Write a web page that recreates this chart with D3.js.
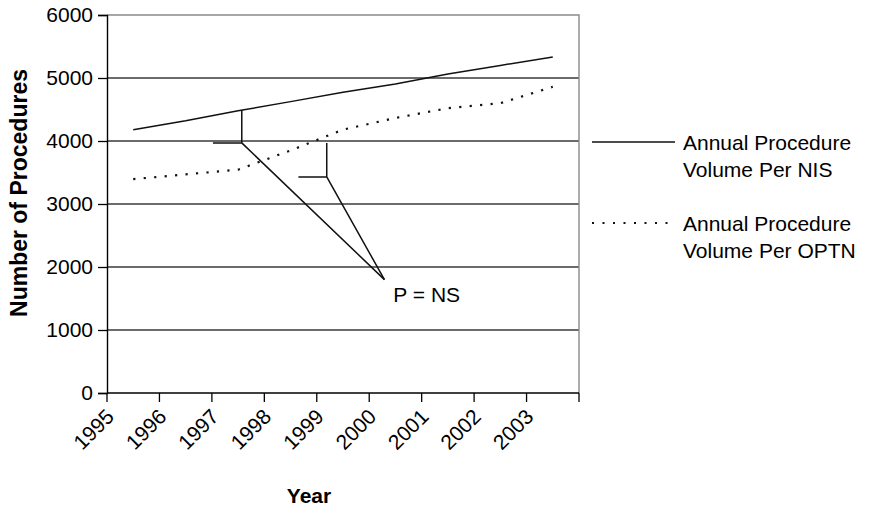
<!DOCTYPE html>
<html>
<head>
<meta charset="utf-8">
<script src="https://cdn.jsdelivr.net/npm/d3@7"></script>
<style>
  html, body { margin: 0; padding: 0; background: #fff; }
  svg { display: block; }
  text { font-family: "Liberation Sans", Arial, sans-serif; fill: #000; }
</style>
</head>
<body>
<svg id="chart" width="871" height="509"></svg>
<script>
// ---- data ----
const years = ["1995", "1996", "1997", "1998", "1999", "2000", "2001", "2002", "2003"];
const nisValues = [4180, 4320, 4480, 4625, 4775, 4905, 5065, 5200, 5335];
const optnValues = [3395, 3470, 3545, 3850, 4180, 4365, 4520, 4600, 4860];
const yTicks = [0, 1000, 2000, 3000, 4000, 5000, 6000];
const seriesNames = [["Annual Procedure", "Volume Per NIS"], ["Annual Procedure", "Volume Per OPTN"]];
const yTitle = "Number of Procedures";
const xTitle = "Year";
const noteText = "P = NS";
// annotation brackets (x in category index units, y in procedure units)
const brackets = [
  { x: 2.07, xLeft: 1.52, yTop: 4492, yBottom: 3970 },
  { x: 3.69, xLeft: 3.15, yTop: 3970, yBottom: 3430 }
];
const notePoint = { x: 4.79, y: 1800 };
const noteLabel = { x: 4.96, y: 1450 };

// ---- layout ----
const svg = d3.select("#chart");
const pLeft = 107, pRight = 579, pTop = 15, pBottom = 393;

const x = d3.scaleBand().domain(years).range([pLeft, pRight]).padding(0);
const y = d3.scaleLinear().domain([0, 6000]).range([pBottom, pTop]);
const xi = d3.scaleLinear().domain([0, years.length - 1])
  .range([x(years[0]) + x.bandwidth() / 2, x(years[years.length - 1]) + x.bandwidth() / 2]);

// gridlines
svg.append("g")
  .selectAll("line")
  .data(yTicks.filter(t => t > 0 && t < 6000))
  .join("line")
  .attr("x1", pLeft).attr("x2", pRight)
  .attr("y1", d => y(d)).attr("y2", d => y(d))
  .attr("stroke", "#3a3a3a").attr("stroke-width", 1.4);

// plot border top/right
svg.append("path")
  .attr("d", `M${pLeft},${y(6000)}H${pRight}V${pBottom}`)
  .attr("fill", "none").attr("stroke", "#8a8a8a").attr("stroke-width", 1.4);

// y axis
const yAxis = d3.axisLeft(y).tickValues(yTicks).tickSize(9).tickPadding(5).tickFormat(d3.format("d"));
const gy = svg.append("g").attr("transform", `translate(${pLeft},0)`).call(yAxis);
gy.select(".domain").attr("stroke", "#000").attr("stroke-width", 1.4);
gy.selectAll(".tick line").attr("stroke", "#000").attr("stroke-width", 1.3);
gy.selectAll(".tick text").attr("font-size", 21).attr("font-family", "Liberation Sans, Arial, sans-serif").attr("fill", "#000");

// x axis: ticks at category boundaries
const boundaries = years.map(d => x(d)).concat([pRight]);
const gx = svg.append("g");
gx.append("line").attr("x1", pLeft).attr("x2", pRight).attr("y1", pBottom).attr("y2", pBottom)
  .attr("stroke", "#000").attr("stroke-width", 1.4);
gx.selectAll("line.tk").data(boundaries).join("line").attr("class", "tk")
  .attr("x1", d => d).attr("x2", d => d).attr("y1", pBottom).attr("y2", pBottom + 9)
  .attr("stroke", "#000").attr("stroke-width", 1.3);
gx.selectAll("text").data(years).join("text")
  .attr("transform", d => `translate(${x(d) + x.bandwidth() / 2 - 18},${pBottom + 25}) rotate(-45)`)
  .attr("text-anchor", "end")
  .attr("font-size", 21)
  .text(d => d);

// series lines
const line = d3.line().x((d, i) => x(years[i]) + x.bandwidth() / 2).y(d => y(d));
svg.append("path").datum(nisValues).attr("d", line)
  .attr("fill", "none").attr("stroke", "#111").attr("stroke-width", 1.5);
svg.append("path").datum(optnValues).attr("d", line)
  .attr("fill", "none").attr("stroke", "#111").attr("stroke-width", 2.2)
  .attr("stroke-dasharray", "2.2,8.3");

// annotation brackets
const ann = svg.append("g").attr("fill", "none").attr("stroke", "#111").attr("stroke-width", 1.5);
brackets.forEach(b => {
  ann.append("path").attr("d",
    `M${xi(b.x)},${y(b.yTop)}V${y(b.yBottom)}H${xi(b.xLeft)}` +
    `M${xi(b.x)},${y(b.yBottom)}L${xi(notePoint.x)},${y(notePoint.y)}`);
});
svg.append("text").attr("x", xi(noteLabel.x)).attr("y", y(noteLabel.y))
  .attr("font-size", 21).text(noteText);

// axis titles
svg.append("text")
  .attr("transform", `translate(27,193) rotate(-90)`)
  .attr("text-anchor", "middle").attr("font-size", 23).attr("font-weight", "bold")
  .text(yTitle);
svg.append("text").attr("x", 309).attr("y", 503)
  .attr("text-anchor", "middle").attr("font-size", 21).attr("font-weight", "bold")
  .text(xTitle);

// legend
const legendTop = [142, 223];
const lg = svg.append("g");
seriesNames.forEach((lines, k) => {
  const cy = legendTop[k];
  const ln = lg.append("line").attr("x1", 592).attr("x2", 675).attr("y1", cy).attr("y2", cy)
    .attr("stroke", "#111");
  if (k === 0) ln.attr("stroke-width", 1.5);
  else ln.attr("stroke-width", 2).attr("stroke-dasharray", "2,8.5");
  lines.forEach((t, j) => {
    lg.append("text").attr("x", 683).attr("y", cy + 7.5 + j * 27)
      .attr("font-size", 21).text(t);
  });
});
</script>
</body>
</html>
